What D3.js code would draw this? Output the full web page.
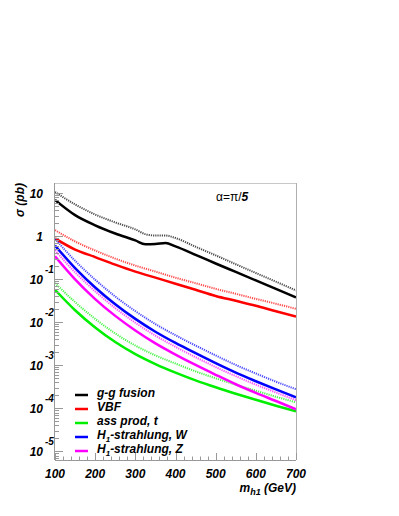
<!DOCTYPE html>
<meta charset="utf-8">
<head>
  <title>Higgs cross sections</title>
</head>

<style>
body {
  margin: 0;
  background: #fff;
}
text {
  font-family: "Liberation Sans", Helvetica, Arial, sans-serif;
  font-weight: bold;
  font-style: italic;
  font-size: 12px;
  fill: #000;
}
</style>

<body>
  <div id="content"></div>

  <script src="https://cdnjs.cloudflare.com/ajax/libs/d3/7.8.5/d3.min.js"></script>

  <script>
// masses (GeV)
var mass = [100, 150, 200, 250, 300, 350, 400, 450, 500, 550, 600, 650, 700];
var massGG = [100, 150, 200, 250, 300, 325, 350, 375, 400, 450, 500, 550, 600, 650, 700];

// cross sections (pb), solid = one setting, dotted = other
var ggSolid  = [7.0, 3.1, 1.8, 1.16, 0.80, 0.65, 0.66, 0.70, 0.58, 0.37, 0.233, 0.148, 0.094, 0.060, 0.038];
var ggDotted = [10.7, 5.5, 3.2, 2.1, 1.44, 1.12, 1.04, 1.04, 0.91, 0.57, 0.36, 0.224, 0.140, 0.088, 0.055];
var vbfSolid  = [0.89, 0.49, 0.328, 0.219, 0.151, 0.109, 0.079, 0.057, 0.041, 0.0316, 0.0242, 0.018, 0.0136];
var vbfDotted = [1.39, 0.757, 0.466, 0.303, 0.208, 0.151, 0.109, 0.081, 0.060, 0.046, 0.035, 0.027, 0.0206];
var ttSolid  = [0.0571, 0.0191, 0.00759, 0.00347, 0.00182, 0.00107, 6.76e-4, 4.47e-4, 3.09e-4, 2.19e-4, 1.58e-4, 1.15e-4, 8.5e-5];
var ttDotted = [0.0818, 0.0295, 0.0120, 0.0055, 0.00288, 0.0017, 0.0011, 7.24e-4, 5.0e-4, 3.55e-4, 2.57e-4, 1.86e-4, 1.38e-4];
var whSolid  = [0.61, 0.182, 0.0646, 0.0263, 0.0120, 0.00603, 0.00331, 0.00191, 0.00112, 6.76e-4, 4.27e-4, 2.75e-4, 1.81e-4];
var whDotted = [0.871, 0.269, 0.0977, 0.0398, 0.0182, 0.00912, 0.00501, 0.00288, 0.0017, 0.00102, 6.46e-4, 4.17e-4, 2.78e-4];
var zhSolid  = [0.343, 0.1, 0.0347, 0.0141, 0.00646, 0.00324, 0.00178, 0.00102, 6.03e-4, 3.63e-4, 2.29e-4, 1.48e-4, 9.5e-5];
var zhDotted = [0.473, 0.145, 0.0525, 0.0214, 0.00977, 0.0049, 0.00269, 0.00155, 9.1e-4, 5.6e-4, 3.55e-4, 2.34e-4, 1.54e-4];

var legendNames = ['g-g fusion', 'VBF', 'ass prod, t', 'H1-strahlung, W', 'H1-strahlung, Z'];
var colors = ['#000000', '#ff0000', '#00ee00', '#0000ff', '#ff00ff'];
var xTicks = [100, 200, 300, 400, 500, 600, 700];

var series = [
  {x: massGG, y: ggSolid, c: 0, dot: false},
  {x: massGG, y: ggDotted, c: 0, dot: true},
  {x: mass, y: vbfSolid, c: 1, dot: false},
  {x: mass, y: vbfDotted, c: 1, dot: true},
  {x: mass, y: ttSolid, c: 2, dot: false},
  {x: mass, y: ttDotted, c: 2, dot: true},
  {x: mass, y: whSolid, c: 3, dot: false},
  {x: mass, y: whDotted, c: 3, dot: true},
  {x: mass, y: zhSolid, c: 4, dot: false},
  {x: mass, y: zhDotted, c: 4, dot: true}
];

var W = 399, H = 516;
var pL = 55, pR = 296, pT = 183, pB = 460;

var svg = d3.select('#content').append('svg')
  .attr('width', W)
  .attr('height', H);

svg.append('rect').attr('width', W).attr('height', H).attr('fill', '#fff');

var x = d3.scaleLinear().domain([100, 700]).range([pL, pR]);
var y = d3.scaleLog().domain([6.3e-6, 17.3]).range([pB, pT]);

// clip
svg.append('clipPath').attr('id', 'clip')
  .append('rect')
  .attr('x', pL).attr('y', pT)
  .attr('width', pR - pL).attr('height', pB - pT);

// curves
var line = d3.line().curve(d3.curveMonotoneX);
var g = svg.append('g').attr('clip-path', 'url(#clip)');
series.forEach(function(s) {
  var pts = s.x.map(function(m, i) { return [x(m), y(s.y[i])]; });
  g.append('path')
    .attr('d', line(pts))
    .attr('fill', 'none')
    .attr('stroke', colors[s.c])
    .attr('stroke-width', s.dot ? 2 : 2.5)
    .attr('stroke-dasharray', s.dot ? '1.2,1' : null)
    .attr('opacity', s.dot ? 0.7 : 1);
});

// frame
svg.append('line').attr('x1', pL).attr('x2', pR).attr('y1', pT + 0.5).attr('y2', pT + 0.5)
  .attr('stroke', '#c8c8c8');
svg.append('line').attr('x1', pR + 0.5).attr('x2', pR + 0.5).attr('y1', pT).attr('y2', pB)
  .attr('stroke', '#b0b0b0');
svg.append('line').attr('x1', pL - 0.5).attr('x2', pL - 0.5).attr('y1', pT).attr('y2', pB)
  .attr('stroke', '#999');
svg.append('line').attr('x1', pL).attr('x2', pR).attr('y1', pB + 0.5).attr('y2', pB + 0.5)
  .attr('stroke', '#999');

// y ticks (inside)
var yt = svg.append('g');
for (var e = -6; e <= 1; e++) {
  for (var k = 1; k <= 9; k++) {
    var v = k * Math.pow(10, e);
    if (v < y.domain()[0] || v > y.domain()[1]) continue;
    var yy = Math.round(y(v)) + 0.5;
    yt.append('line')
      .attr('x1', pL).attr('x2', pL + (k === 1 ? 8 : 4))
      .attr('y1', yy).attr('y2', yy)
      .attr('stroke', '#999');
  }
}

// y tick labels
for (var e2 = -5; e2 <= 1; e2++) {
  var ty = y(Math.pow(10, e2));
  if (e2 === 0) {
    svg.append('text').attr('x', 43).attr('y', ty + 4.5).attr('text-anchor', 'end').text('1');
  } else {
    svg.append('text').attr('x', 43).attr('y', ty + 4.5).attr('text-anchor', 'end').text('10');
    if (e2 !== 1) {
      svg.append('text').attr('x', 45).attr('y', ty - 6)
        .style('font-size', '10px').text(e2);
    }
  }
}

// x ticks
for (var m = 100; m <= 700; m += 20) {
  var xx = Math.round(x(m)) + 0.5;
  svg.append('line')
    .attr('x1', xx).attr('x2', xx)
    .attr('y1', pB).attr('y2', pB - (m % 100 === 0 ? 7 : 3.5))
    .attr('stroke', '#999');
}
xTicks.forEach(function(t) {
  svg.append('text').attr('x', x(t)).attr('y', 478)
    .attr('text-anchor', 'middle').text(t);
});

// axis titles
var xt = svg.append('text').attr('x', pR).attr('y', 492).attr('text-anchor', 'end');
xt.append('tspan').text('m');
xt.append('tspan').attr('dy', 3).style('font-size', '9px').text('h1');
xt.append('tspan').attr('dy', -3).text(' (GeV)');

svg.append('text')
  .attr('transform', 'translate(24,' + pT + ') rotate(-90)')
  .attr('text-anchor', 'end')
  .text('\u03c3 (pb)');

var at = svg.append('text').attr('x', 216).attr('y', 201);
at.append('tspan').style('font-weight', 'normal').style('font-style', 'normal').text('\u03b1=\u03c0/');
at.append('tspan').text('5');

// legend
var ly = [395, 409, 423, 437, 451];
legendNames.forEach(function(name, i) {
  svg.append('line')
    .attr('x1', 75).attr('x2', 88)
    .attr('y1', ly[i]).attr('y2', ly[i])
    .attr('stroke', colors[i]).attr('stroke-width', 2.5);
  var t = svg.append('text').attr('x', 97).attr('y', ly[i] + 2);
  if (name.indexOf('H1') === 0) {
    t.append('tspan').text('H');
    t.append('tspan').attr('dy', 3).style('font-size', '8px').text('1');
    t.append('tspan').attr('dy', -3).text(name.slice(2));
  } else {
    t.text(name);
  }
});
  </script>
</body>
</html>
